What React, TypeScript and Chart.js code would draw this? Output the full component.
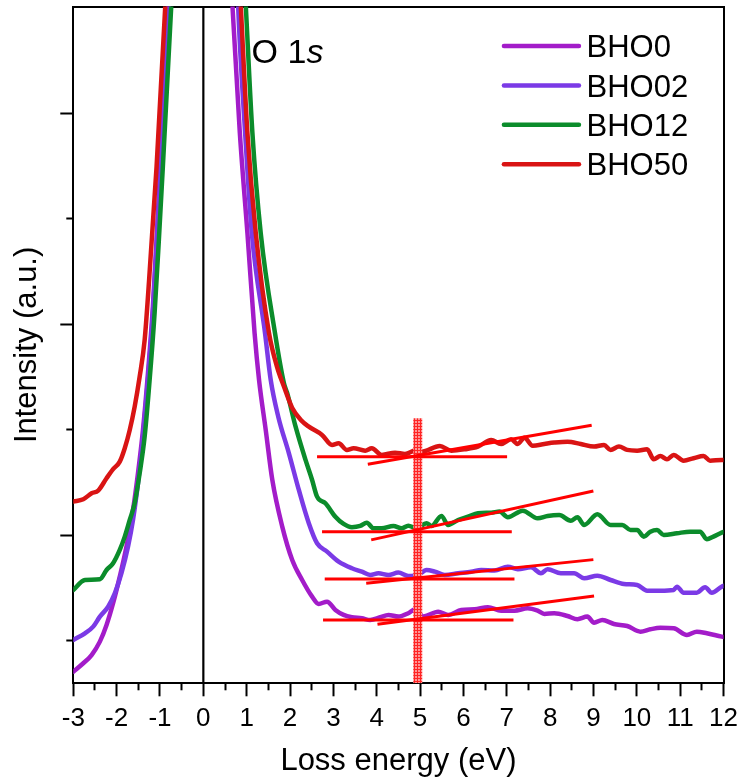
import React, { useEffect, useRef } from 'react';
import { Chart, registerables } from 'chart.js';

Chart.register(...registerables);

const FONT = "'Liberation Sans', Arial, Helvetica, sans-serif";

const SERIES_LABELS = ['BHO0', 'BHO02', 'BHO12', 'BHO50'];
const SERIES_COLORS = ['#a31cc9', '#7b3ae6', '#0b8c2b', '#d91414'];

const X_MIN = -3;
const X_MAX = 12;
const Y_MIN = 0.596;
const Y_MAX = 7.01;
const X_MAJOR_TICKS = [-3, -2, -1, 0, 1, 2, 3, 4, 5, 6, 7, 8, 9, 10, 11, 12];
const X_MINOR_TICKS = [-2.5, -1.5, -0.5, 0.5, 1.5, 2.5, 3.5, 4.5, 5.5, 6.5, 7.5, 8.5, 9.5, 10.5, 11.5];
const Y_MAJOR_TICKS = [2, 4, 6];
const Y_MINOR_TICKS = [1, 3, 5];

const PEAK_LABEL_X = 1.113;
const PEAK_LABEL_Y = 6.479;

// [loss energy (eV), intensity (a.u.)]
const BHO0: [number, number][] = [
  [-3.0, 0.706], [-2.770, 0.786], [-2.578, 0.864], [-2.387, 0.991], [-2.233, 1.149], [-2.082, 1.355],
  [-1.928, 1.607], [-1.774, 1.891], [-1.623, 2.239], [-1.508, 2.587], [-1.393, 2.997], [-1.278, 3.535],
  [-1.164, 4.166], [-1.067, 4.893], [-0.975, 5.651], [-0.815, 7.01], [-0.769, 7.45],
  [0.620, 7.45], [0.672, 7.01], [0.842, 5.809], [1.017, 4.862], [1.182, 3.914], [1.285, 3.471],
  [1.439, 2.997], [1.591, 2.523], [1.820, 2.081], [2.050, 1.765], [2.279, 1.575], [2.509, 1.417],
  [2.662, 1.348], [2.853, 1.370], [3.046, 1.291], [3.236, 1.244], [3.427, 1.222], [3.656, 1.212],
  [3.849, 1.196], [4.078, 1.222], [4.269, 1.244], [4.498, 1.228], [4.728, 1.260], [4.882, 1.298],
  [5.080, 1.230], [5.417, 1.275], [5.646, 1.244], [5.951, 1.291], [6.259, 1.298], [6.564, 1.317],
  [6.869, 1.284], [7.177, 1.284], [7.482, 1.307], [7.712, 1.284], [7.866, 1.253], [8.095, 1.260],
  [8.400, 1.234], [8.630, 1.203], [8.859, 1.228], [9.013, 1.171], [9.204, 1.196], [9.472, 1.158],
  [9.778, 1.139], [10.083, 1.085], [10.312, 1.108], [10.542, 1.123], [10.849, 1.118], [11.155, 1.054],
  [11.384, 1.085], [11.614, 1.070], [11.958, 1.038], [12.0, 1.035],
];

const BHO02: [number, number][] = [
  [-3.0, 1.007], [-2.731, 1.070], [-2.541, 1.133], [-2.387, 1.228], [-2.197, 1.322], [-2.043, 1.449],
  [-1.889, 1.639], [-1.737, 1.891], [-1.623, 2.144], [-1.508, 2.492], [-1.393, 2.934], [-1.278, 3.471],
  [-1.164, 4.103], [-1.072, 4.798], [-0.975, 5.493], [-0.792, 7.01], [-0.746, 7.45],
  [0.769, 7.45], [0.803, 7.01], [0.964, 5.809], [1.118, 4.862], [1.423, 3.914], [1.554, 3.471],
  [1.728, 3.123], [1.974, 2.776], [2.203, 2.428], [2.433, 2.113], [2.623, 1.923], [2.853, 1.844],
  [3.121, 1.749], [3.427, 1.686], [3.656, 1.654], [3.849, 1.623], [4.039, 1.639], [4.269, 1.623],
  [4.498, 1.645], [4.728, 1.613], [4.958, 1.623], [5.148, 1.670], [5.341, 1.654], [5.570, 1.623],
  [5.876, 1.639], [6.181, 1.654], [6.410, 1.670], [6.718, 1.664], [7.023, 1.701], [7.253, 1.677],
  [7.558, 1.696], [7.788, 1.639], [7.941, 1.677], [8.247, 1.639], [8.554, 1.639], [8.784, 1.591],
  [9.089, 1.616], [9.394, 1.575], [9.702, 1.537], [10.007, 1.528], [10.237, 1.474], [10.542, 1.474],
  [10.849, 1.481], [10.925, 1.512], [11.079, 1.455], [11.384, 1.455], [11.575, 1.506], [11.728, 1.455],
  [11.958, 1.512], [12.0, 1.520],
];

const BHO12: [number, number][] = [
  [-3.0, 1.481], [-2.731, 1.575], [-2.387, 1.582], [-2.233, 1.670], [-2.082, 1.734], [-1.928, 1.860],
  [-1.813, 1.986], [-1.698, 2.144], [-1.584, 2.302], [-1.469, 2.587], [-1.354, 2.934], [-1.239, 3.471],
  [-1.125, 4.103], [-1.026, 4.798], [-0.934, 5.493], [-0.741, 7.01], [-0.689, 7.45],
  [0.925, 7.45], [0.980, 7.01], [1.132, 5.809], [1.324, 4.862], [1.653, 3.914], [1.859, 3.440],
  [1.935, 3.345], [2.128, 3.028], [2.357, 2.713], [2.509, 2.523], [2.623, 2.365], [2.816, 2.302],
  [3.046, 2.175], [3.236, 2.106], [3.427, 2.075], [3.619, 2.087], [3.771, 2.118], [3.925, 2.065],
  [4.115, 2.065], [4.384, 2.087], [4.574, 2.065], [4.728, 2.090], [4.919, 2.065], [5.148, 2.113],
  [5.263, 2.087], [5.492, 2.182], [5.646, 2.097], [5.876, 2.144], [6.105, 2.175], [6.335, 2.208],
  [6.640, 2.213], [6.833, 2.223], [7.023, 2.170], [7.367, 2.232], [7.712, 2.160], [7.941, 2.182],
  [8.210, 2.191], [8.476, 2.137], [8.630, 2.170], [8.784, 2.097], [9.089, 2.198], [9.394, 2.097],
  [9.663, 2.097], [9.853, 2.049], [10.007, 2.049], [10.161, 1.986], [10.312, 2.033], [10.466, 2.049],
  [10.620, 2.002], [10.925, 2.018], [11.230, 2.033], [11.460, 2.033], [11.614, 1.961], [11.767, 1.986],
  [11.958, 2.024], [12.0, 2.030],
];

const BHO50: [number, number][] = [
  [-3.0, 2.318], [-2.770, 2.340], [-2.578, 2.397], [-2.426, 2.422], [-2.233, 2.539], [-2.082, 2.625],
  [-1.928, 2.697], [-1.813, 2.824], [-1.698, 2.997], [-1.584, 3.218], [-1.469, 3.502], [-1.354, 3.850],
  [-1.251, 4.419], [-1.079, 5.493], [-0.879, 7.01], [-0.826, 7.45],
  [0.815, 7.45], [0.865, 7.01], [1.017, 5.809], [1.210, 4.862], [1.515, 3.914], [1.698, 3.597],
  [1.859, 3.408], [2.050, 3.206], [2.249, 3.092], [2.433, 3.028], [2.738, 2.950], [2.968, 2.855],
  [3.121, 2.871], [3.312, 2.808], [3.466, 2.824], [3.734, 2.801], [3.886, 2.824], [4.115, 2.760],
  [4.423, 2.782], [4.652, 2.770], [4.919, 2.808], [5.033, 2.791], [5.456, 2.845], [5.722, 2.801],
  [6.029, 2.814], [6.335, 2.839], [6.640, 2.902], [6.869, 2.864], [7.099, 2.909], [7.253, 2.864],
  [7.407, 2.924], [7.597, 2.848], [7.866, 2.864], [8.095, 2.877], [8.400, 2.886], [8.706, 2.864],
  [9.013, 2.839], [9.243, 2.855], [9.394, 2.808], [9.587, 2.839], [9.778, 2.808], [10.007, 2.801],
  [10.237, 2.814], [10.390, 2.719], [10.542, 2.751], [10.696, 2.719], [10.849, 2.760], [11.079, 2.706],
  [11.308, 2.729], [11.538, 2.751], [11.689, 2.706], [11.958, 2.713], [12.0, 2.713],
];

const SERIES = [BHO0, BHO02, BHO12, BHO50];

// baseline guides: [x start, x end, y]
const FLAT_GUIDES: [number, number, number][] = [
  [2.623, 7.007, 2.744],
  [2.738, 7.115, 2.033],
  [2.800, 7.177, 1.585],
  [2.761, 7.154, 1.196],
];

// slope guides: [x1, y1, x2, y2]
const SLOPE_GUIDES: [number, number, number, number][] = [
  [3.794, 2.672, 8.958, 3.042],
  [3.872, 1.955, 8.997, 2.419],
  [3.757, 1.544, 8.997, 1.768],
  [4.017, 1.155, 9.013, 1.424],
];

const ONSET_X = 4.946;
const ONSET_TOP = 3.108;

const overlayPlugin = {
  id: 'overlay',
  afterDraw(chart: any) {
    const { ctx, chartArea } = chart;
    const xs = chart.scales.x;
    const ys = chart.scales.y;
    ctx.save();
    ctx.fillStyle = '#000';
    ctx.textBaseline = 'alphabetic';
    ctx.textAlign = 'left';
    const px = xs.getPixelForValue(PEAK_LABEL_X);
    const py = ys.getPixelForValue(PEAK_LABEL_Y);
    ctx.font = `34px ${FONT}`;
    const head = 'O 1';
    ctx.fillText(head, px, py);
    const w = ctx.measureText(head).width;
    ctx.font = `italic 34px ${FONT}`;
    ctx.fillText('s', px + w, py);

    const lx1 = chartArea.right - 219.6;
    const lx2 = chartArea.right - 144.6;
    const tx = chartArea.right - 137;
    SERIES_LABELS.forEach((lab, i) => {
      const y = chartArea.top + 39.5 + i * 39.4;
      ctx.strokeStyle = SERIES_COLORS[i];
      ctx.lineWidth = 4.5;
      ctx.lineCap = 'round';
      ctx.beginPath();
      ctx.moveTo(lx1, y);
      ctx.lineTo(lx2, y);
      ctx.stroke();
      ctx.font = `31px ${FONT}`;
      ctx.fillStyle = '#000';
      ctx.fillText(lab, tx, y + 11.1);
    });
    ctx.restore();
  },
};

export default function App() {
  const ref = useRef<HTMLCanvasElement | null>(null);

  useEffect(() => {
    const canvas = ref.current;
    if (!canvas) return;
    const ctx = canvas.getContext('2d')!;

    const pc = document.createElement('canvas');
    pc.width = 3;
    pc.height = 3;
    const g = pc.getContext('2d')!;
    g.fillStyle = '#ff9494';
    g.fillRect(0, 0, 3, 3);
    g.fillStyle = '#ff2424';
    g.fillRect(0, 0, 3, 1);
    g.fillRect(0, 0, 1, 3);
    const hatch = ctx.createPattern(pc, 'repeat');

    const common = {
      xAxisID: 'x',
      yAxisID: 'y',
      pointRadius: 0,
      pointHoverRadius: 0,
      fill: false,
    };

    const datasets: any[] = [];

    FLAT_GUIDES.forEach(([x1, x2, y]) => {
      datasets.push({
        ...common,
        label: 'guide',
        data: [{ x: x1, y }, { x: x2, y }],
        borderColor: '#ff0000',
        borderWidth: 3,
        order: 0,
      });
    });
    SLOPE_GUIDES.forEach(([x1, y1, x2, y2]) => {
      datasets.push({
        ...common,
        label: 'guide',
        data: [{ x: x1, y: y1 }, { x: x2, y: y2 }],
        borderColor: '#ff0000',
        borderWidth: 3,
        order: 0,
      });
    });
    datasets.push({
      ...common,
      label: 'onset',
      data: [{ x: ONSET_X, y: Y_MIN }, { x: ONSET_X, y: ONSET_TOP }],
      borderColor: hatch,
      borderWidth: 9,
      borderCapStyle: 'butt',
      order: 1,
    });
    SERIES.forEach((s, i) => {
      datasets.push({
        ...common,
        label: SERIES_LABELS[i],
        data: s.map(([x, y]) => ({ x, y })),
        borderColor: SERIES_COLORS[i],
        borderWidth: 4.5,
        borderJoinStyle: 'round',
        borderCapStyle: 'round',
        cubicInterpolationMode: 'monotone',
        clip: 0,
        order: 6 - i,
      });
    });
    datasets.push({
      ...common,
      label: 'zero',
      data: [{ x: 0, y: Y_MIN }, { x: 0, y: Y_MAX }],
      borderColor: '#000',
      borderWidth: 2.2,
      order: 10,
    });

    const tickSetter = (vals: number[]) => (axis: any) => {
      axis.ticks = vals.map((v) => ({ value: v }));
    };

    const chart = new Chart(canvas, {
      type: 'line',
      data: { datasets },
      plugins: [overlayPlugin],
      options: {
        animation: false,
        responsive: false,
        devicePixelRatio: 1,
        events: [],
        parsing: false as any,
        normalized: true,
        layout: { padding: { left: 0, right: 18.1, top: 6.5, bottom: 0 } },
        plugins: {
          legend: { display: false },
          tooltip: { enabled: false },
        },
        scales: {
          x: {
            type: 'linear',
            position: 'bottom',
            min: X_MIN,
            max: X_MAX,
            weight: 1,
            afterBuildTicks: tickSetter(X_MAJOR_TICKS),
            afterFit: (s: any) => { s.height = 99.7; },
            ticks: {
              autoSkip: false,
              maxRotation: 0,
              minRotation: 0,
              padding: 7,
              color: '#000',
              font: { family: FONT, size: 26 },
              callback: (v: any) => String(v),
            },
            grid: { drawOnChartArea: false, tickLength: 13, tickWidth: 2, tickColor: '#000' },
            border: { display: true, color: '#000', width: 2 },
            title: {
              display: true,
              text: 'Loss energy (eV)',
              color: '#000',
              font: { family: FONT, size: 31 },
              padding: { top: 0, bottom: 3 },
            },
          },
          x2: {
            type: 'linear',
            position: 'bottom',
            min: X_MIN,
            max: X_MAX,
            weight: 0,
            afterBuildTicks: tickSetter(X_MINOR_TICKS),
            afterFit: (s: any) => { s.height = 0; },
            ticks: { display: false },
            grid: { drawOnChartArea: false, tickLength: 7, tickWidth: 2, tickColor: '#000' },
            border: { display: false },
          },
          xTop: {
            type: 'linear',
            position: 'top',
            min: X_MIN,
            max: X_MAX,
            afterFit: (s: any) => { s.height = 0; },
            ticks: { display: false },
            grid: { display: false, drawTicks: false },
            border: { display: true, color: '#000', width: 2 },
          },
          y: {
            type: 'linear',
            position: 'left',
            min: Y_MIN,
            max: Y_MAX,
            weight: 1,
            afterBuildTicks: tickSetter(Y_MAJOR_TICKS),
            afterFit: (s: any) => { s.width = 73.3; },
            ticks: { display: false },
            grid: { drawOnChartArea: false, tickLength: 13, tickWidth: 2, tickColor: '#000' },
            border: { display: true, color: '#000', width: 2 },
            title: {
              display: true,
              text: 'Intensity (a.u.)',
              color: '#000',
              font: { family: FONT, size: 31 },
              padding: { top: 8.5, bottom: 0 },
            },
          },
          y2: {
            type: 'linear',
            position: 'left',
            min: Y_MIN,
            max: Y_MAX,
            weight: 0,
            afterBuildTicks: tickSetter(Y_MINOR_TICKS),
            afterFit: (s: any) => { s.width = 0; },
            ticks: { display: false },
            grid: { drawOnChartArea: false, tickLength: 7, tickWidth: 2, tickColor: '#000' },
            border: { display: false },
          },
          yRight: {
            type: 'linear',
            position: 'right',
            min: Y_MIN,
            max: Y_MAX,
            afterFit: (s: any) => { s.width = 0; },
            ticks: { display: false },
            grid: { display: false, drawTicks: false },
            border: { display: true, color: '#000', width: 2 },
          },
        } as any,
      },
    });

    return () => chart.destroy();
  }, []);

  return (
    <div style={{ position: 'fixed', left: 0, top: 0, width: 745, height: 783, background: '#fff' }}>
      <canvas ref={ref} width={745} height={783} style={{ display: 'block', width: 745, height: 783 }} />
    </div>
  );
}
